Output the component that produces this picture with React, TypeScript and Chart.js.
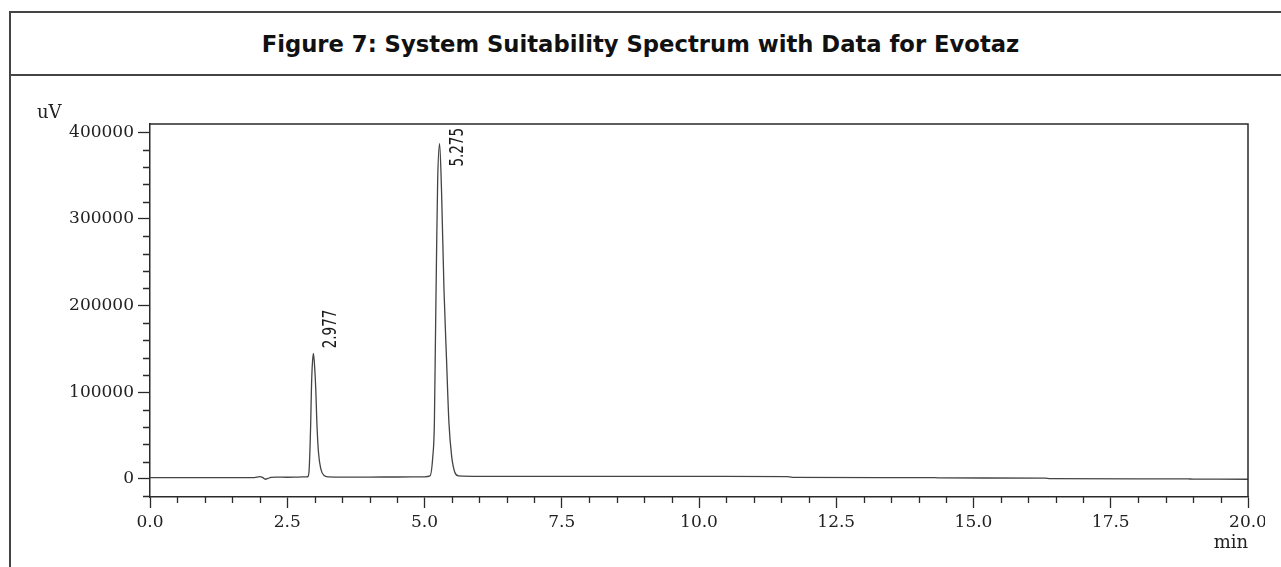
import React, { useEffect, useRef } from 'react';
import { Chart, registerables } from 'chart.js';

Chart.register(...registerables);

const TITLE = 'Figure 7: System Suitability Spectrum with Data for Evotaz';
const Y_UNIT = 'uV';
const X_UNIT = 'min';

// retention time (min)
const timeMin = [
  0.0, 0.5, 1.0, 1.5, 1.9, 2.0, 2.05, 2.1, 2.15, 2.2, 2.3, 2.5, 2.7, 2.85,
  2.88, 2.9, 2.927, 2.94, 2.955, 2.977, 3.0, 3.02, 3.04, 3.07, 3.11, 3.17, 3.25,
  3.5, 4.0, 4.5, 5.0, 5.1, 5.15, 5.18, 5.2, 5.22, 5.24, 5.275, 5.31, 5.355,
  5.4, 5.445, 5.495, 5.55, 5.62, 6.0, 7.5, 10.0, 11.6, 11.7, 14.3, 14.4, 16.3,
  16.4, 18.9, 19.0, 20.0, 20.3,
];
// detector signal (uV)
const signalUV = [
  1500, 1500, 1500, 1500, 1600, 2700, 1800, -300, 600, 1800, 2200, 2000, 2200, 2500,
  3000, 12000, 64000, 103000, 130000, 145000, 128000, 103000, 64000, 30000, 12000, 4000, 2500,
  2200, 2200, 2300, 2500, 3500, 25000, 65000, 165000, 262000, 345000, 387000, 333000, 218000,
  140000, 65000, 26000, 8000, 3500, 3000, 3000, 3000, 2800, 1800, 1500, 1200, 1000,
  300, 100, -200, -300, -4000,
];

const peakTimes = [2.977, 5.275];
const peakLabels = ['2.977', '5.275'];

const xMajorTicks = [0, 2.5, 5, 7.5, 10, 12.5, 15, 17.5, 20];
const xMinorTicks = [
  0.5, 1, 1.5, 2, 3, 3.5, 4, 4.5, 5.5, 6, 6.5, 7, 8, 8.5, 9, 9.5, 10.5, 11, 11.5, 12,
  13, 13.5, 14, 14.5, 15.5, 16, 16.5, 17, 18, 18.5, 19, 19.5,
];
const yMajorTicks = [0, 100000, 200000, 300000, 400000];
const yMinorTicks = [
  -20000, 20000, 40000, 60000, 80000, 120000, 140000, 160000, 180000, 220000, 240000,
  260000, 280000, 320000, 340000, 360000, 380000,
];

const X_MIN = 0;
const X_MAX = 20;
const Y_MIN = -20800;
const Y_MAX = 409600;

const AXIS_COLOR = '#2a2a2a';
const SERIF = '"DejaVu Serif", "Liberation Serif", serif';
const NARROW = '"Liberation Sans Narrow", "DejaVu Sans Condensed", "Arial Narrow", sans-serif';

const extrasPlugin = {
  id: 'extras',
  afterDraw(chart: any) {
    const { ctx, chartArea: a, scales } = chart;
    const xs = scales.x;
    const ys = scales.y;
    ctx.save();
    // top and right frame of plot
    ctx.strokeStyle = AXIS_COLOR;
    ctx.lineWidth = 1.5;
    ctx.beginPath();
    ctx.moveTo(a.left, a.top);
    ctx.lineTo(a.right, a.top);
    ctx.lineTo(a.right, a.bottom);
    ctx.stroke();
    // minor ticks
    ctx.lineWidth = 1.3;
    ctx.beginPath();
    xMinorTicks.forEach((v) => {
      const px = Math.round(xs.getPixelForValue(v)) + 0.5;
      ctx.moveTo(px, a.bottom);
      ctx.lineTo(px, a.bottom + 6);
    });
    yMinorTicks.forEach((v) => {
      const py = Math.round(ys.getPixelForValue(v)) + 0.5;
      ctx.moveTo(a.left, py);
      ctx.lineTo(a.left - 7, py);
    });
    ctx.stroke();
    // peak labels (condensed, tall glyphs)
    ctx.fillStyle = '#1a1a1a';
    ctx.font = `15px ${NARROW}`;
    ctx.textAlign = 'left';
    ctx.textBaseline = 'middle';
    peakTimes.forEach((t, i) => {
      let best = 0;
      timeMin.forEach((tm, j) => {
        if (Math.abs(tm - t) < Math.abs(timeMin[best] - t)) best = j;
      });
      const px = xs.getPixelForValue(timeMin[best]);
      const py = ys.getPixelForValue(signalUV[best]);
      const w = ctx.measureText(peakLabels[i]).width;
      const start = Math.max(py - 5, a.top + 4 + w);
      ctx.save();
      ctx.translate(px + 18, start);
      ctx.rotate(-Math.PI / 2);
      ctx.scale(1, 1.3);
      ctx.fillText(peakLabels[i], 0, 0);
      ctx.restore();
    });
    // unit labels
    ctx.font = `18px ${SERIF}`;
    ctx.fillStyle = '#222';
    ctx.textAlign = 'left';
    ctx.fillText(Y_UNIT, a.left - 113, a.top - 11);
    ctx.textAlign = 'center';
    ctx.fillText(X_UNIT, a.right - 17, a.bottom + 46);
    ctx.restore();
  },
};

function ChromChart() {
  const ref = useRef<HTMLCanvasElement | null>(null);
  useEffect(() => {
    if (!ref.current) return;
    const data = timeMin.map((t, i) => ({ x: t, y: signalUV[i] }));
    const chart = new Chart(ref.current, {
      type: 'line',
      data: {
        datasets: [
          {
            data,
            borderColor: '#444',
            borderWidth: 1.3,
            pointRadius: 0,
            fill: false,
            cubicInterpolationMode: 'monotone',
            clip: false as any,
          },
        ],
      },
      options: {
        animation: false,
        responsive: false,
        maintainAspectRatio: false,
        layout: { padding: { left: 0, top: 124, right: 17, bottom: 0 } },
        plugins: {
          legend: { display: false },
          tooltip: { enabled: false },
          title: { display: false },
        },
        scales: {
          x: {
            type: 'linear',
            min: X_MIN,
            max: X_MAX,
            afterBuildTicks: (s: any) => {
              s.ticks = xMajorTicks.map((v) => ({ value: v }));
            },
            afterFit: (s: any) => {
              s.height = 70;
              s.paddingLeft = 0;
              s.paddingRight = 0;
            },
            border: { display: true, color: AXIS_COLOR, width: 1.5 },
            grid: {
              display: true,
              drawOnChartArea: false,
              drawTicks: true,
              tickLength: 11,
              tickColor: AXIS_COLOR,
              tickWidth: 1.3,
            },
            ticks: {
              autoSkip: false,
              maxRotation: 0,
              padding: 4,
              color: '#222',
              font: { family: SERIF, size: 17 },
              callback: (v: any) => Number(v).toFixed(1),
            },
          },
          y: {
            type: 'linear',
            min: Y_MIN,
            max: Y_MAX,
            afterBuildTicks: (s: any) => {
              s.ticks = yMajorTicks.map((v) => ({ value: v }));
            },
            afterFit: (s: any) => {
              s.width = 150;
              s.paddingTop = 0;
              s.paddingBottom = 0;
            },
            border: { display: true, color: AXIS_COLOR, width: 1.5 },
            grid: {
              display: true,
              drawOnChartArea: false,
              drawTicks: true,
              tickLength: 12,
              tickColor: AXIS_COLOR,
              tickWidth: 1.3,
            },
            ticks: {
              autoSkip: false,
              padding: 4,
              color: '#222',
              font: { family: SERIF, size: 17 },
              callback: (v: any) => String(v),
            },
          },
        },
      },
      plugins: [extrasPlugin],
    });
    return () => chart.destroy();
  }, []);
  return (
    <canvas
      ref={ref}
      width={1265}
      height={567}
      style={{ position: 'absolute', left: 0, top: 0, width: 1265, height: 567 }}
    />
  );
}

export default function App() {
  return (
    <div
      style={{
        position: 'absolute',
        left: 0,
        top: 0,
        width: 1281,
        height: 567,
        overflow: 'hidden',
        background: '#fff',
      }}
    >
      <div style={{ position: 'absolute', left: 9, top: 11, width: 1272, height: 2, background: '#444' }} />
      <div style={{ position: 'absolute', left: 9, top: 74, width: 1272, height: 2, background: '#444' }} />
      <div style={{ position: 'absolute', left: 9, top: 11, width: 2, height: 556, background: '#444' }} />
      <div
        style={{
          position: 'absolute',
          left: 0,
          top: 13,
          width: 1281,
          height: 61,
          display: 'flex',
          alignItems: 'center',
          justifyContent: 'center',
          fontFamily: '"DejaVu Sans", Verdana, sans-serif',
          fontWeight: 'bold',
          fontSize: 22.7,
          color: '#111',
        }}
      >
        {TITLE}
      </div>
      <ChromChart />
    </div>
  );
}
